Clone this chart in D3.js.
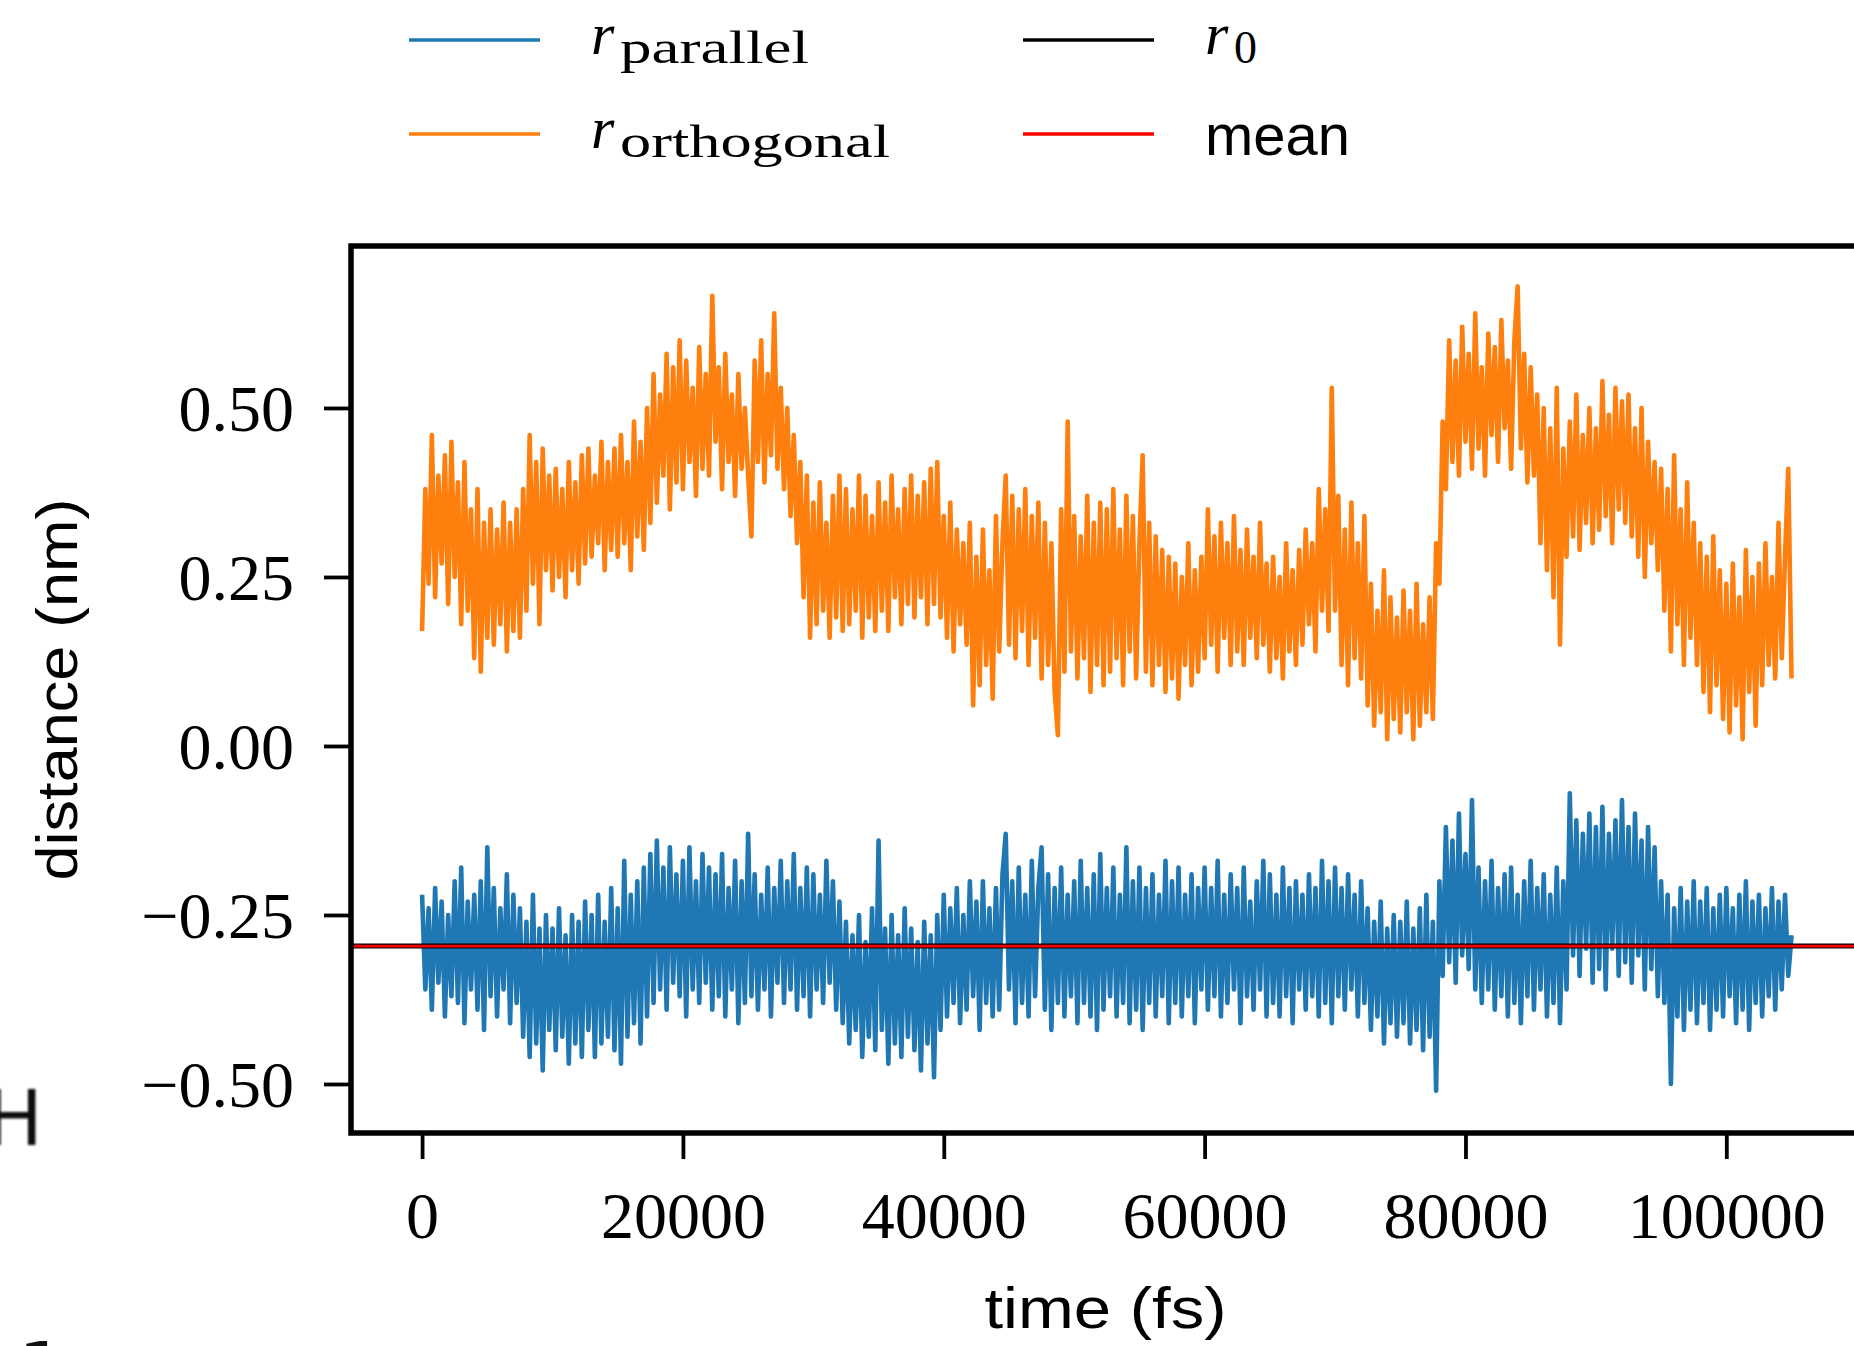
<!DOCTYPE html>
<html>
<head>
<meta charset="utf-8">
<script src="https://cdn.jsdelivr.net/npm/d3@7"></script>
<style>
  body { margin: 0; background: #fff; }
  svg { display: block; }
</style>
</head>
<body>
<div id="chart"></div>
<script>
// sampling of both traces (fs between points)
const TIME_STEP = 250;

// r_parallel (nm)
const rParallel = [
  -0.22,-0.36,-0.24,-0.39,-0.21,-0.35,-0.23,-0.40,-0.25,-0.37,
  -0.20,-0.38,-0.18,-0.41,-0.23,-0.36,-0.22,-0.39,-0.20,-0.42,
  -0.15,-0.37,-0.21,-0.40,-0.24,-0.36,-0.19,-0.41,-0.22,-0.38,
  -0.24,-0.43,-0.26,-0.46,-0.22,-0.44,-0.27,-0.48,-0.25,-0.42,
  -0.27,-0.45,-0.24,-0.43,-0.28,-0.47,-0.25,-0.44,-0.26,-0.46,
  -0.23,-0.42,-0.25,-0.46,-0.22,-0.44,-0.26,-0.43,-0.21,-0.45,
  -0.24,-0.47,-0.17,-0.43,-0.22,-0.41,-0.20,-0.44,-0.18,-0.40,
  -0.16,-0.38,-0.14,-0.36,-0.18,-0.39,-0.15,-0.35,-0.19,-0.37,
  -0.17,-0.40,-0.15,-0.36,-0.20,-0.38,-0.16,-0.35,-0.18,-0.39,
  -0.19,-0.37,-0.16,-0.40,-0.21,-0.36,-0.17,-0.41,-0.20,-0.38,
  -0.13,-0.37,-0.19,-0.39,-0.22,-0.36,-0.18,-0.40,-0.21,-0.35,
  -0.17,-0.38,-0.20,-0.36,-0.16,-0.39,-0.21,-0.37,-0.18,-0.40,
  -0.19,-0.36,-0.22,-0.38,-0.17,-0.35,-0.20,-0.39,-0.23,-0.41,
  -0.26,-0.44,-0.28,-0.42,-0.25,-0.46,-0.29,-0.43,-0.24,-0.45,
  -0.14,-0.42,-0.27,-0.47,-0.25,-0.44,-0.28,-0.46,-0.24,-0.43,
  -0.27,-0.45,-0.29,-0.48,-0.26,-0.44,-0.28,-0.49,-0.25,-0.42,
  -0.22,-0.40,-0.24,-0.38,-0.21,-0.41,-0.25,-0.39,-0.20,-0.37,
  -0.23,-0.42,-0.20,-0.38,-0.24,-0.40,-0.21,-0.39,-0.19,-0.13,
  -0.36,-0.20,-0.41,-0.18,-0.38,-0.22,-0.40,-0.17,-0.37,-0.21,
  -0.15,-0.39,-0.19,-0.42,-0.21,-0.38,-0.18,-0.40,-0.22,-0.37,
  -0.20,-0.41,-0.17,-0.38,-0.21,-0.40,-0.19,-0.42,-0.16,-0.39,
  -0.21,-0.37,-0.18,-0.40,-0.22,-0.38,-0.15,-0.41,-0.20,-0.39,
  -0.18,-0.42,-0.21,-0.38,-0.19,-0.40,-0.22,-0.37,-0.17,-0.41,
  -0.20,-0.38,-0.18,-0.40,-0.22,-0.37,-0.19,-0.41,-0.21,-0.36,
  -0.18,-0.39,-0.21,-0.37,-0.17,-0.40,-0.22,-0.38,-0.19,-0.36,
  -0.21,-0.41,-0.18,-0.37,-0.23,-0.39,-0.20,-0.36,-0.17,-0.40,
  -0.19,-0.38,-0.22,-0.40,-0.18,-0.37,-0.21,-0.41,-0.20,-0.36,
  -0.22,-0.39,-0.19,-0.37,-0.21,-0.40,-0.17,-0.38,-0.20,-0.41,
  -0.18,-0.37,-0.21,-0.39,-0.19,-0.36,-0.22,-0.40,-0.20,-0.38,
  -0.24,-0.42,-0.26,-0.40,-0.23,-0.44,-0.27,-0.41,-0.25,-0.43,
  -0.26,-0.41,-0.23,-0.44,-0.27,-0.42,-0.24,-0.45,-0.22,-0.43,
  -0.26,-0.51,-0.20,-0.34,-0.12,-0.32,-0.14,-0.35,-0.10,-0.31,
  -0.16,-0.33,-0.08,-0.36,-0.18,-0.38,-0.20,-0.36,-0.17,-0.39,
  -0.21,-0.37,-0.19,-0.40,-0.18,-0.38,-0.22,-0.41,-0.20,-0.37,
  -0.17,-0.39,-0.21,-0.36,-0.19,-0.40,-0.22,-0.38,-0.18,-0.41,
  -0.20,-0.36,-0.07,-0.31,-0.11,-0.34,-0.13,-0.30,-0.10,-0.35,
  -0.12,-0.33,-0.09,-0.36,-0.13,-0.30,-0.11,-0.34,-0.08,-0.32,
  -0.12,-0.35,-0.10,-0.31,-0.14,-0.36,-0.12,-0.33,-0.15,-0.37,
  -0.20,-0.38,-0.22,-0.50,-0.24,-0.40,-0.21,-0.42,-0.23,-0.39,
  -0.20,-0.41,-0.23,-0.38,-0.21,-0.42,-0.24,-0.39,-0.22,-0.40,
  -0.21,-0.37,-0.24,-0.41,-0.22,-0.39,-0.20,-0.42,-0.23,-0.38,
  -0.22,-0.40,-0.24,-0.37,-0.21,-0.39,-0.23,-0.36,-0.22,-0.34,
  -0.28
];

// r_orthogonal (nm)
const rOrthogonal = [
  0.17,0.38,0.24,0.46,0.22,0.40,0.27,0.43,0.21,0.45,
  0.25,0.39,0.18,0.42,0.20,0.35,0.13,0.38,0.11,0.33,
  0.16,0.35,0.15,0.32,0.18,0.36,0.14,0.33,0.17,0.35,
  0.16,0.38,0.20,0.46,0.24,0.42,0.18,0.44,0.26,0.40,
  0.23,0.41,0.25,0.38,0.22,0.42,0.26,0.39,0.24,0.43,
  0.27,0.44,0.28,0.40,0.30,0.45,0.26,0.42,0.29,0.44,
  0.28,0.46,0.30,0.42,0.26,0.48,0.31,0.45,0.29,0.50,
  0.33,0.55,0.36,0.52,0.40,0.58,0.35,0.56,0.39,0.60,
  0.38,0.57,0.42,0.53,0.37,0.59,0.41,0.55,0.40,0.666,
  0.45,0.56,0.38,0.58,0.42,0.52,0.37,0.55,0.41,0.50,
  0.40,0.31,0.57,0.42,0.60,0.39,0.55,0.43,0.64,0.41,
  0.53,0.38,0.50,0.34,0.46,0.30,0.42,0.22,0.40,0.16,
  0.36,0.18,0.39,0.20,0.33,0.16,0.37,0.19,0.40,0.17,
  0.38,0.18,0.35,0.20,0.40,0.16,0.37,0.19,0.34,0.17,
  0.39,0.20,0.36,0.17,0.40,0.22,0.35,0.18,0.38,0.21,
  0.40,0.19,0.37,0.22,0.39,0.18,0.41,0.21,0.42,0.19,
  0.34,0.16,0.36,0.14,0.32,0.18,0.30,0.15,0.33,0.06,
  0.28,0.09,0.32,0.12,0.26,0.07,0.34,0.14,0.30,0.40,
  0.15,0.37,0.13,0.35,0.17,0.38,0.12,0.34,0.16,0.36,
  0.10,0.33,0.12,0.30,0.08,0.016,0.35,0.11,0.48,0.14,
  0.34,0.10,0.31,0.13,0.37,0.08,0.33,0.12,0.36,0.09,
  0.35,0.11,0.38,0.13,0.32,0.09,0.37,0.14,0.34,0.10,
  0.30,0.43,0.11,0.33,0.09,0.31,0.12,0.29,0.08,0.28,
  0.10,0.27,0.07,0.25,0.12,0.30,0.09,0.26,0.11,0.28,
  0.13,0.35,0.15,0.31,0.11,0.33,0.16,0.30,0.12,0.34,
  0.14,0.29,0.12,0.32,0.16,0.28,0.13,0.33,0.15,0.27,
  0.11,0.28,0.13,0.25,0.10,0.30,0.14,0.26,0.12,0.29,
  0.15,0.32,0.18,0.30,0.14,0.38,0.20,0.35,0.17,0.53,
  0.20,0.37,0.12,0.32,0.09,0.36,0.13,0.30,0.10,0.34,
  0.06,0.24,0.03,0.20,0.05,0.26,0.01,0.22,0.04,0.19,
  0.02,0.23,0.05,0.20,0.01,0.24,0.03,0.18,0.05,0.22,
  0.04,0.30,0.24,0.48,0.38,0.60,0.42,0.57,0.40,0.62,
  0.45,0.58,0.41,0.64,0.44,0.56,0.40,0.61,0.46,0.59,
  0.42,0.63,0.47,0.57,0.41,0.60,0.68,0.44,0.58,0.39,
  0.56,0.40,0.52,0.30,0.50,0.26,0.47,0.22,0.53,0.15,
  0.44,0.28,0.48,0.31,0.52,0.29,0.46,0.33,0.50,0.30,
  0.47,0.32,0.54,0.34,0.49,0.30,0.53,0.35,0.51,0.33,
  0.52,0.31,0.47,0.28,0.50,0.25,0.45,0.30,0.42,0.26,
  0.41,0.20,0.38,0.14,0.43,0.18,0.35,0.12,0.39,0.16,
  0.33,0.12,0.30,0.08,0.28,0.05,0.31,0.09,0.26,0.04,
  0.24,0.02,0.27,0.06,0.22,0.01,0.29,0.08,0.25,0.03,
  0.27,0.09,0.30,0.12,0.25,0.10,0.33,0.13,0.28,0.41,
  0.10
];

const r0 = -0.296;            // reference distance
const meanParallel = -0.296;  // mean of r_parallel

const xTicks = [0, 20000, 40000, 60000, 80000, 100000];
const yTicks = [-0.5, -0.25, 0, 0.25, 0.5];

const xLimits = [-5450, 110250];
const yLimits = [-0.5725, 0.7396];

const width = 1854, height = 1346;
const box = {left: 351, right: 1860, top: 246, bottom: 1133};
const serif = "'Liberation Serif', 'DejaVu Serif', serif";
const sans = "'Liberation Sans', 'DejaVu Sans', sans-serif";

const svg = d3.select('#chart').append('svg')
    .attr('width', width)
    .attr('height', height);

const x = d3.scaleLinear().domain(xLimits).range([box.left, box.right]);
const y = d3.scaleLinear().domain(yLimits).range([box.bottom, box.top]);

const line = d3.line()
    .x((d, i) => x(i * TIME_STEP))
    .y(d => y(d));

// traces, in plotting order
svg.append('path')
    .datum(rParallel)
    .attr('d', line)
    .attr('fill', 'none')
    .attr('stroke', '#1f77b4')
    .attr('stroke-width', 4.6)
    .attr('stroke-linejoin', 'round');

svg.append('path')
    .datum(rOrthogonal)
    .attr('d', line)
    .attr('fill', 'none')
    .attr('stroke', '#ff7f0e')
    .attr('stroke-width', 4.6)
    .attr('stroke-linejoin', 'round');

svg.append('line')
    .attr('x1', box.left).attr('x2', box.right)
    .attr('y1', y(r0)).attr('y2', y(r0))
    .attr('stroke', '#000')
    .attr('stroke-width', 5);

svg.append('line')
    .attr('x1', box.left).attr('x2', box.right)
    .attr('y1', y(meanParallel)).attr('y2', y(meanParallel))
    .attr('stroke', '#ff0000')
    .attr('stroke-width', 2.8);

// axes
const fmt = d3.format('.2f');
const yAxis = svg.append('g')
    .attr('transform', 'translate(' + box.left + ',0)')
    .call(d3.axisLeft(y).tickValues(yTicks).tickSize(27).tickPadding(30).tickFormat(fmt));

const xAxis = svg.append('g')
    .attr('transform', 'translate(0,' + box.bottom + ')')
    .call(d3.axisBottom(x).tickValues(xTicks).tickSize(26).tickPadding(32).tickFormat(d3.format('d')));

[xAxis, yAxis].forEach(g => {
    g.select('.domain').remove();
    g.selectAll('.tick line').attr('stroke', '#000').attr('stroke-width', 3.8);
    g.selectAll('.tick text')
        .attr('fill', '#000')
        .style('font-family', serif)
        .style('font-size', '66px');
});
yAxis.selectAll('.tick text').attr('dy', '0.34em');

// frame
svg.append('rect')
    .attr('x', box.left).attr('y', box.top)
    .attr('width', box.right - box.left)
    .attr('height', box.bottom - box.top)
    .attr('fill', 'none')
    .attr('stroke', '#000')
    .attr('stroke-width', 5.5);

// axis titles
svg.append('text')
    .attr('x', (box.left + box.right) / 2)
    .attr('y', 1328)
    .attr('text-anchor', 'middle')
    .attr('textLength', 242)
    .attr('lengthAdjust', 'spacingAndGlyphs')
    .style('font-family', sans)
    .style('font-size', '58px')
    .text('time (fs)');

svg.append('text')
    .attr('transform', 'translate(77,' + (box.top + box.bottom) / 2 + ') rotate(-90)')
    .attr('text-anchor', 'middle')
    .attr('textLength', 382)
    .attr('lengthAdjust', 'spacingAndGlyphs')
    .style('font-family', sans)
    .style('font-size', '58px')
    .text('distance (nm)');

// legend
const legendItems = [
    {color: '#1f77b4', sub: 'parallel', subLen: 189, col: 0, row: 0},
    {color: '#ff7f0e', sub: 'orthogonal', subLen: 270, col: 0, row: 1},
    {color: '#000000', sub: '0', subLen: 0, col: 1, row: 0},
    {color: '#ff0000', label: 'mean', col: 1, row: 1}
];
const legendCols = [409, 1023];
const legendRows = [40, 134];

legendItems.forEach(item => {
    const lx = legendCols[item.col];
    const ly = legendRows[item.row];
    svg.append('line')
        .attr('x1', lx).attr('x2', lx + 131)
        .attr('y1', ly).attr('y2', ly)
        .attr('stroke', item.color)
        .attr('stroke-width', 3.4);
    const tx = lx + 182;
    if (item.label) {
        svg.append('text')
            .attr('x', tx).attr('y', ly + 21)
            .attr('textLength', 145)
            .attr('lengthAdjust', 'spacingAndGlyphs')
            .style('font-family', sans)
            .style('font-size', '58px')
            .text(item.label);
    } else {
        svg.append('text')
            .attr('x', tx).attr('y', ly + 14)
            .style('font-family', serif)
            .style('font-style', 'italic')
            .style('font-size', '60px')
            .text('r');
        const sub = svg.append('text')
            .attr('x', tx + 29).attr('y', ly + 23)
            .style('font-family', serif)
            .style('font-size', '46px')
            .text(item.sub);
        if (item.subLen) sub.attr('textLength', item.subLen).attr('lengthAdjust', 'spacingAndGlyphs');
    }
});

// fragments of the neighbouring panel cut by the crop
const blur = svg.append('defs').append('filter').attr('id', 'soft');
blur.append('feGaussianBlur').attr('stdDeviation', 1.1);

svg.append('text')
    .attr('x', 43).attr('y', 1145)
    .attr('text-anchor', 'end')
    .attr('filter', 'url(#soft)')
    .style('font-family', "'DejaVu Sans', sans-serif")
    .style('font-size', '76px')
    .attr('fill', '#111')
    .text('H');

svg.append('text')
    .attr('x', 18).attr('y', 1397)
    .style('font-family', "'DejaVu Sans', sans-serif")
    .style('font-size', '76px')
    .attr('fill', '#111')
    .text('1');
</script>
</body>
</html>
